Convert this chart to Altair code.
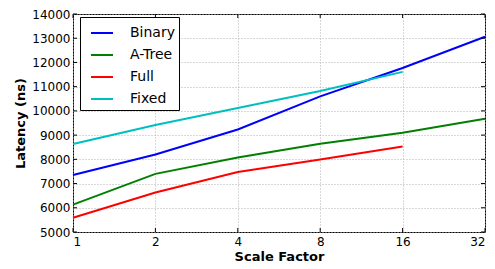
import altair as alt
import pandas as pd

scale = [1, 2, 4, 8, 16, 32]
binary = [7350, 8200, 9230, 10600, 11770, 13060]
atree = [6130, 7400, 8080, 8640, 9100, 9680]
full = [5590, 6630, 7480, 7990, 8530]
fixed = [8630, 9420, 10120, 10820, 11610]
yticks = list(range(5000, 14001, 1000))

rows = []
for name, vals in [("Binary", binary), ("A-Tree", atree), ("Full", full), ("Fixed", fixed)]:
    for s, v in zip(scale, vals):
        rows.append({"series": name, "scale": s, "latency": v})
df = pd.DataFrame(rows)

order = ["Binary", "A-Tree", "Full", "Fixed"]
colors = ["#0000ff", "#008000", "#ff0000", "#00bfbf"]

font = "DejaVu Sans"
W, H = 412, 218

xs = alt.Scale(type="log", base=2, domain=[1, 32], nice=False)
ys = alt.Scale(domain=[5000, 14000], nice=False)

xaxis = alt.Axis(values=scale, title="Scale Factor", format="d", labelFontSize=12,
                 titleFontSize=13, titleFontWeight="bold", labelFont=font, titleFont=font,
                 labelColor="black", titleColor="black", tickSize=0, labelPadding=4,
                 titlePadding=3, domain=False, gridDash=[1, 2], gridColor="#b0b0b0",
                 labelOverlap=False)
yaxis = alt.Axis(values=yticks, title="Latency (ns)", format="d", labelFontSize=12,
                 titleFontSize=13, titleFontWeight="bold", labelFont=font, titleFont=font,
                 labelColor="black", titleColor="black", tickSize=0, labelPadding=3,
                 titlePadding=4, domain=False, gridDash=[1, 2], gridColor="#b0b0b0",
                 labelOverlap=False)

lines = alt.Chart(df).mark_line(strokeWidth=2).encode(
    x=alt.X("scale:Q", scale=xs, axis=xaxis),
    y=alt.Y("latency:Q", scale=ys, axis=yaxis),
    color=alt.Color("series:N", scale=alt.Scale(domain=order, range=colors),
                    legend=alt.Legend(title=None, orient="none", legendX=7, legendY=3,
                                      symbolType="stroke", symbolSize=484, symbolStrokeWidth=2,
                                      symbolOffset=6,
                                      labelFontSize=14, labelFont=font, labelColor="black",
                                      labelOffset=16, rowPadding=3, padding=4,
                                      strokeColor="black", fillColor="white", cornerRadius=0)),
    order=alt.Order("scale:Q"),
)

xt = pd.DataFrame({"scale": scale})
yt = pd.DataFrame({"latency": yticks})
tk = dict(color="black", strokeWidth=1)
xb = alt.Chart(xt).mark_rule(**tk).encode(x=alt.X("scale:Q", scale=xs, axis=xaxis), y=alt.value(H), y2=alt.value(H - 4))
xtop = alt.Chart(xt).mark_rule(**tk).encode(x=alt.X("scale:Q", scale=xs, axis=xaxis), y=alt.value(0), y2=alt.value(4))
yl = alt.Chart(yt).mark_rule(**tk).encode(y=alt.Y("latency:Q", scale=ys, axis=yaxis), x=alt.value(0), x2=alt.value(4))
yr = alt.Chart(yt).mark_rule(**tk).encode(y=alt.Y("latency:Q", scale=ys, axis=yaxis), x=alt.value(W), x2=alt.value(W - 4))

chart = alt.layer(lines, xb, xtop, yl, yr).properties(
    width=W, height=H,
    autosize=alt.AutoSizeParams(type="none"),
    padding={"left": 65, "top": 6, "right": 2, "bottom": 35},
).configure_view(stroke="black", strokeWidth=1)

chart.save("out.html", embed_options={"renderer": "svg", "actions": False})
